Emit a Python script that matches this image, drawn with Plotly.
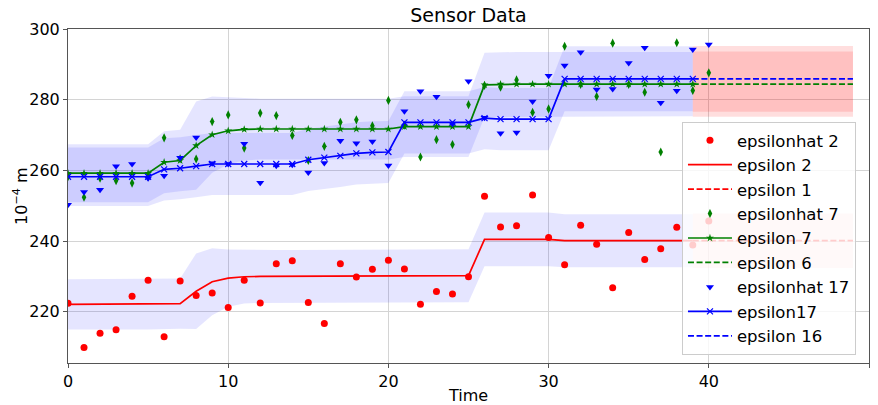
import plotly.graph_objects as go

# ---------------- data ----------------
t_obs = [0, 1, 2, 3, 4, 5, 6, 7, 8, 9, 10, 11, 12, 13, 14, 15, 16, 17, 18, 19, 20,
         21, 22, 23, 24, 25, 26, 27, 28, 29, 30, 31, 32, 33, 34, 35, 36, 37, 38, 39, 40]
t_est = t_obs[:40]
t_pred = [39, 40, 41, 42, 43, 44, 45, 46, 47, 48, 49]

epsilonhat_2 = [222.4, 209.9, 213.9, 214.9, 224.4, 228.9, 212.9, 228.7, 224.6, 225.3,
                221.2, 228.9, 222.5, 233.6, 234.4, 222.6, 216.7, 233.6, 229.8, 232.0,
                234.6, 232.1, 222.1, 225.7, 225.0, 229.9, 252.7, 244.0, 244.3, 253.0,
                241.0, 233.3, 244.5, 239.1, 226.8, 242.4, 234.8, 237.8, 243.9, 238.9, 245.7]
epsilonhat_7 = [258.2, 252.4, 257.8, 257.1, 256.4, 258.2, 269.2, 263.3, 263.2, 273.8,
                275.7, 266.3, 276.2, 275.5, 269.9, 262.8, 266.8, 273.6, 274.3, 272.6,
                279.8, 272.8, 263.8, 268.7, 267.3, 278.6, 284.0, 283.5, 285.6, 276.4,
                277.4, 295.1, 284.3, 280.9, 296.0, 284.3, 282.1, 265.2, 296.1, 282.6, 287.6]
epsilonhat_17 = [250.3, 253.9, 254.5, 261.2, 261.8, 257.8, 258.5, 263.6, 269.3, 262.0,
                 261.8, 267.5, 256.5, 261.3, 261.6, 259.4, 262.1, 268.4, 267.7, 268.2,
                 261.4, 276.7, 282.4, 280.8, 273.2, 285.2, 274.9, 270.5, 270.7, 279.5,
                 286.8, 289.7, 293.4, 282.9, 283.0, 290.4, 294.7, 279.1, 282.5, 294.2, 295.6]

epsilon_2 = [222.1, 222.1, 222.1, 222.1, 222.1, 222.1, 222.1, 222.3, 225.8, 228.5,
             229.5, 229.9, 230.0, 230.0, 230.0, 230.0, 230.0, 230.0, 230.0, 230.0,
             230.2, 230.2, 230.2, 230.2, 230.2, 230.2, 240.5, 240.5, 240.5, 240.5,
             240.5, 240.1, 240.1, 240.1, 240.1, 240.1, 240.1, 240.1, 240.1, 240.1]
sigma_2 = [7.1, 7.1, 7.1, 7.1, 7.1, 7.1, 7.1, 7.1, 10.7, 9.5,
           8.1, 7.6, 7.5, 7.5, 7.5, 7.5, 7.5, 7.5, 7.5, 7.5,
           7.5, 7.5, 7.5, 7.5, 7.5, 7.5, 7.6, 7.6, 7.6, 7.6,
           7.6, 7.5, 7.5, 7.5, 7.5, 7.5, 7.5, 7.5, 7.5, 7.5]
epsilon_7 = [259.2, 259.2, 259.2, 259.2, 259.2, 259.2, 262.3, 262.8, 267.0, 270.1,
             271.2, 271.6, 271.7, 271.7, 271.7, 271.7, 271.7, 271.7, 271.7, 271.7,
             271.7, 272.4, 272.4, 272.4, 272.4, 272.4, 284.2, 284.4, 284.4, 284.4,
             284.4, 284.4, 284.4, 284.4, 284.4, 284.4, 284.4, 284.4, 284.4, 284.4]
sigma_7 = [8.2, 8.2, 8.2, 8.2, 8.2, 8.2, 8.8, 8.7, 12.5, 10.8,
           9.5, 8.8, 8.6, 8.6, 8.6, 8.6, 8.6, 8.6, 8.6, 8.6,
           8.6, 8.6, 8.6, 8.6, 8.6, 8.6, 9.1, 9.1, 9.1, 9.1,
           9.1, 9.1, 9.1, 9.1, 9.1, 9.1, 9.1, 9.1, 9.1, 9.1]
epsilon_17 = [258.2, 258.2, 258.2, 258.2, 258.2, 258.2, 260.3, 260.6, 261.2, 261.8,
              261.8, 261.8, 261.8, 261.8, 261.8, 263.0, 263.6, 264.1, 264.8, 265.1,
              265.2, 273.6, 273.6, 273.6, 273.6, 273.6, 274.8, 274.5, 274.5, 274.5,
              274.5, 285.9, 285.9, 285.9, 285.9, 285.9, 285.9, 285.9, 285.9, 285.9]
sigma_17 = [8.3, 8.3, 8.3, 8.3, 8.3, 8.3, 8.8, 8.8, 8.8, 8.8,
            8.8, 8.8, 8.8, 8.8, 8.8, 8.8, 8.8, 8.8, 8.8, 8.8,
            8.8, 8.8, 8.8, 8.8, 8.8, 8.8, 8.8, 8.8, 8.8, 8.8,
            8.8, 9.2, 9.2, 9.2, 9.2, 9.2, 9.2, 9.2, 9.2, 9.2]

epsilon_1 = [240.1, 240.1, 240.1, 240.1, 240.1, 240.1, 240.1, 240.1, 240.1, 240.1, 240.1]
sigma_1 = [7.7, 7.7, 7.7, 7.7, 7.7, 7.7, 7.7, 7.7, 7.7, 7.7, 7.7]
epsilon_6 = [284.4, 284.4, 284.4, 284.4, 284.4, 284.4, 284.4, 284.4, 284.4, 284.4, 284.4]
sigma_6 = [9.2, 9.2, 9.2, 9.2, 9.2, 9.2, 9.2, 9.2, 9.2, 9.2, 9.2]
epsilon_16 = [285.9, 285.9, 285.9, 285.9, 285.9, 285.9, 285.9, 285.9, 285.9, 285.9, 285.9]
sigma_16 = [9.3, 9.3, 9.3, 9.3, 9.3, 9.3, 9.3, 9.3, 9.3, 9.3, 9.3]

x_ticks = [0, 10, 20, 30, 40, 50]
y_ticks = [220, 240, 260, 280, 300]

FONT = "DejaVu Sans"
BAND_EST = "rgba(0,0,255,0.1)"
BAND_PRED = "rgba(255,0,0,0.13)"

fig = go.Figure()


def band(x, center, sig, color):
    up = [c + s for c, s in zip(center, sig)]
    lo = [c - s for c, s in zip(center, sig)]
    fig.add_trace(go.Scatter(x=list(x) + list(x)[::-1], y=up + lo[::-1],
                             fill="toself", fillcolor=color, mode="lines",
                             line=dict(width=0), hoverinfo="skip", showlegend=False))


band(t_est, epsilon_2, sigma_2, BAND_EST)
band(t_est, epsilon_7, sigma_7, BAND_EST)
band(t_est, epsilon_17, sigma_17, BAND_EST)
band(t_pred, epsilon_1, sigma_1, BAND_PRED)
band(t_pred, epsilon_6, sigma_6, BAND_PRED)
band(t_pred, epsilon_16, sigma_16, BAND_PRED)

DASH = "6px,2.6px"
LW = 1.7

traces = [
    go.Scatter(x=t_obs, y=epsilonhat_2, mode="markers", name="epsilonhat 2",
               marker=dict(color="red", size=7, symbol="circle")),
    go.Scatter(x=t_est, y=epsilon_2, mode="lines", name="epsilon 2",
               line=dict(color="red", width=LW)),
    go.Scatter(x=t_pred, y=epsilon_1, mode="lines", name="epsilon 1",
               line=dict(color="red", width=LW, dash=DASH)),
    go.Scatter(x=t_obs, y=epsilonhat_7, mode="markers", name="epsilonhat 7",
               marker=dict(color="green", size=6.5, symbol="diamond-tall")),
    go.Scatter(x=t_est, y=epsilon_7, mode="lines+markers", name="epsilon 7",
               line=dict(color="green", width=LW),
               marker=dict(color="green", size=6, symbol="star")),
    go.Scatter(x=t_pred, y=epsilon_6, mode="lines", name="epsilon 6",
               line=dict(color="green", width=LW, dash=DASH)),
    go.Scatter(x=t_obs, y=epsilonhat_17, mode="markers", name="epsilonhat 17",
               marker=dict(color="blue", size=7, symbol="triangle-down")),
    go.Scatter(x=t_est, y=epsilon_17, mode="lines+markers", name="epsilon17",
               line=dict(color="blue", width=LW),
               marker=dict(color="blue", size=6, symbol="x-thin",
                           line=dict(color="blue", width=1.2))),
    go.Scatter(x=t_pred, y=epsilon_16, mode="lines", name="epsilon 16",
               line=dict(color="blue", width=LW, dash=DASH)),
]
for i, tr in enumerate(traces):
    tr.legendgroup = "g%d" % i
    fig.add_trace(tr)

axis_common = dict(showgrid=True, gridcolor="#d4d4d4", gridwidth=1,
                   showline=True, linecolor="#555555", linewidth=1, mirror=True,
                   ticks="outside", ticklen=4, tickcolor="#555555", automargin=False,
                   zeroline=False, tickfont=dict(family=FONT, size=16, color="black"))

fig.update_layout(
    width=878, height=405,
    margin=dict(l=68, r=9, t=29, b=42),
    paper_bgcolor="white", plot_bgcolor="white",
    font=dict(family=FONT, size=16, color="black"),
    title=dict(text="Sensor Data", x=0.5, xref="paper", xanchor="center",
               y=1 - 15 / 405, yref="container", yanchor="middle",
               font=dict(family=FONT, size=19, color="black")),
    xaxis=dict(range=[0, 50], tickvals=x_ticks,
               title=dict(text="Time", standoff=2, font=dict(family=FONT, size=16)),
               **axis_common),
    yaxis=dict(range=[205.5, 300], tickvals=y_ticks, **axis_common),
    annotations=[dict(text="10<sup>−4</sup> m", textangle=-90, showarrow=False,
                      xref="paper", yref="paper", x=-0.06, y=0.5,
                      xanchor="center", yanchor="middle",
                      font=dict(family=FONT, size=16, color="black"))],
    legend=dict(x=0.7665, xanchor="left", y=0.7216, yanchor="top",
                bgcolor="rgba(255,255,255,0.8)", bordercolor="#cccccc", borderwidth=1,
                font=dict(family=FONT, size=16.5), tracegroupgap=0, itemwidth=44),
)

fig.write_html("out.html")
